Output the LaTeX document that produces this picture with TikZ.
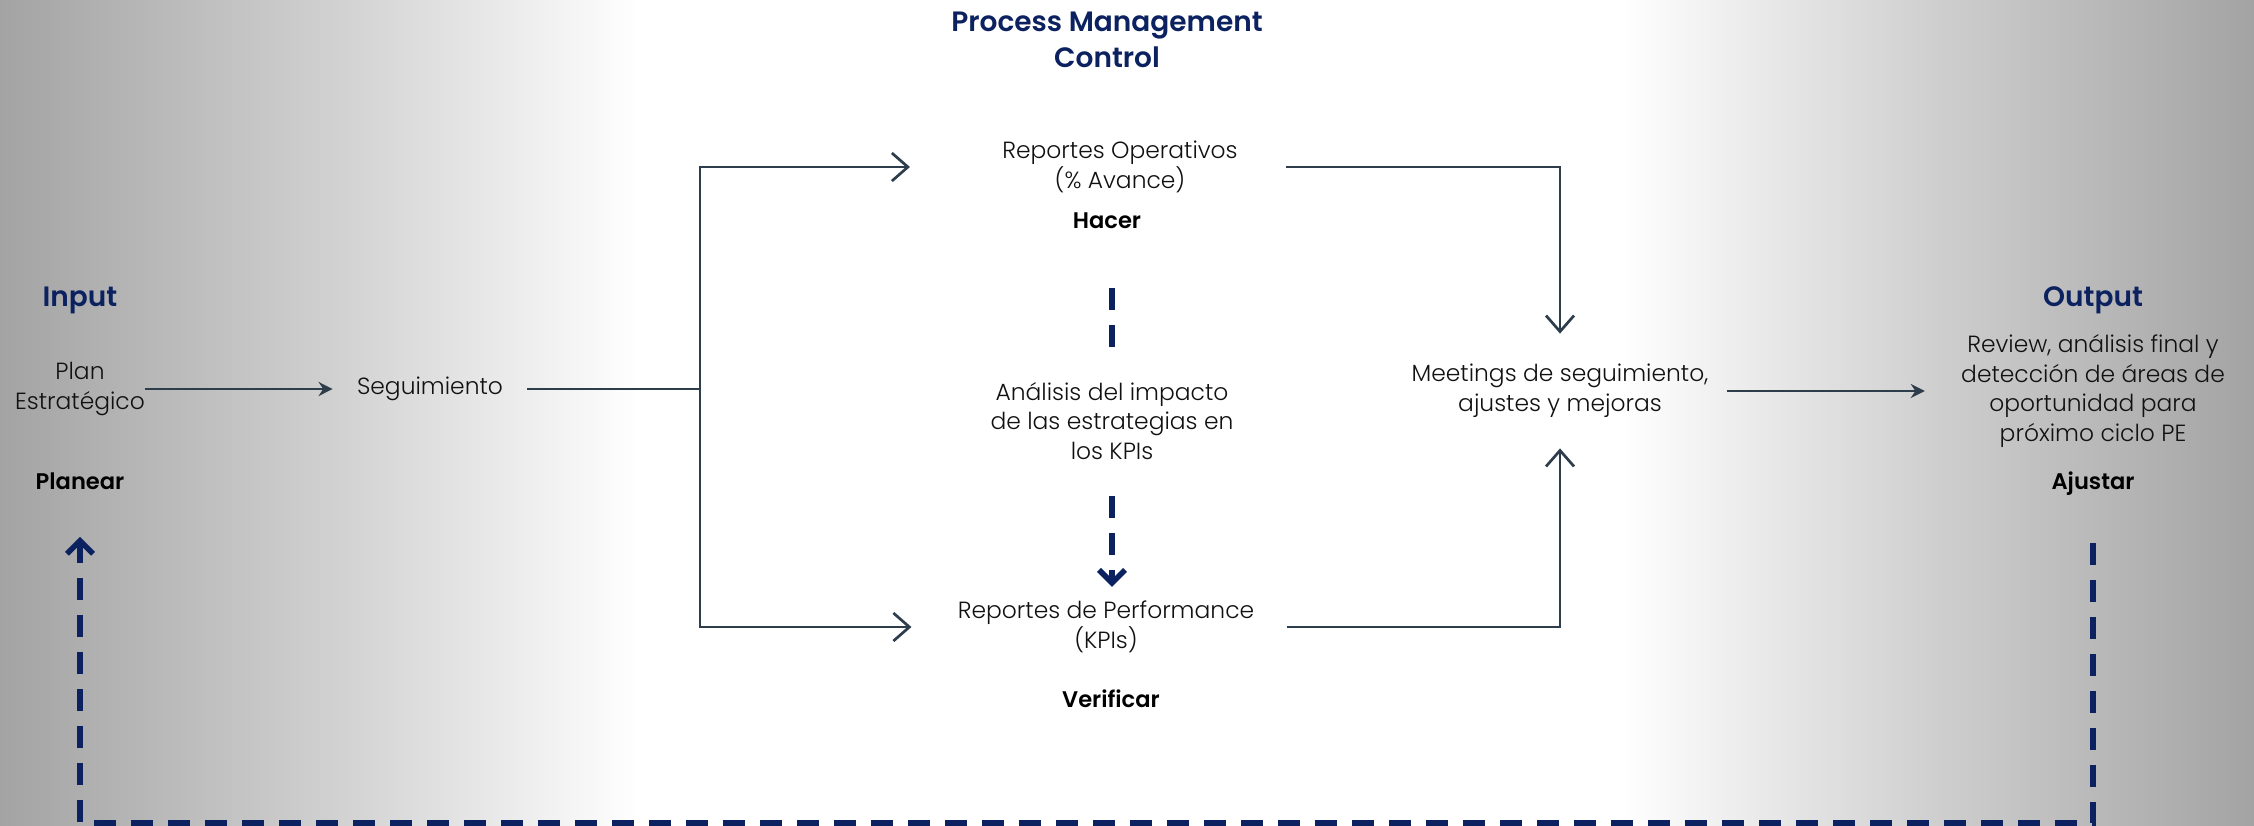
\documentclass[tikz,border=0pt]{standalone}
\usepackage{fontspec}
\setmainfont{Poppins}[UprightFont=* Light, BoldFont=* SemiBold]
\usetikzlibrary{arrows.meta,calc}
\definecolor{navy}{HTML}{0C2260}
\definecolor{slate}{HTML}{2E3D4C}
\definecolor{ink}{HTML}{111111}
\pgfdeclarehorizontalshading{sideglow}{100bp}{color(0bp)=(black!36); color(25bp)=(black!36); color(50bp)=(black!19); color(75bp)=(white); color(100bp)=(white)}
\tikzset{
	body/.style={align=center, inner sep=0pt, text=ink, font=\fontsize{11.7}{14.8}\selectfont},
	tag/.style={inner sep=0pt, text=black, font=\fontsize{11.3}{13}\selectfont\bfseries},
	head/.style={align=center, inner sep=0pt, text=navy, font=\fontsize{14}{18}\selectfont\bfseries},
	link/.style={draw=slate, line width=1.35pt},
	openhead/.style={link, -{Straight Barb[length=8pt,width=14pt]}},
	filledhead/.style={link, -{Stealth[length=7pt,width=7pt]}},
	loopback/.style={draw=navy, line width=2.75pt, dash pattern=on 10.75pt off 7.75pt},
	looptip/.style={loopback, -{Straight Barb[length=6.5pt,width=13pt]}}
}

\begin{document}
\begin{tikzpicture}[x=0.5pt, y=-0.5pt]
		%%%%% START %%%%%
		
		\useasboundingbox (0, 0) rectangle (2254, 825);
		\fill[white] (0, 0) rectangle (2254, 825);
		\shade[shading=sideglow] (0, 0) rectangle (640, 825);
		\shade[shading=sideglow, shading angle=180] (1620, 0) rectangle (2254, 825);
		
		\node[head] (title) at (1107, 40) {Process Management\\Control};
		
		\node[head] (input) at (80, 300) {Input};
		\node[body] (plan) at (80, 389) {Plan\\Estratégico};
		\node[tag] (planear) at (80, 481) {Planear};
		
		\node[body, inner xsep=12pt] (segui) at (430, 389) {Seguimiento};
		\coordinate (junc) at (700, 389);
		
		\node[body] (repop) at (1120, 167) {Reportes Operativos\\(\% Avance)};
		\node[tag] (hacer) at (1107, 221) {Hacer};
		\node[body] (analisis) at (1112, 421) {Análisis del impacto\\de las estrategias en\\los KPIs};
		\node[body] (repperf) at (1106, 627) {Reportes de Performance\\(KPIs)};
		\node[tag] (verificar) at (1111, 699) {Verificar};
		
		\node[body, minimum height=57pt] (meet) at (1560, 391) {Meetings de seguimiento,\\ajustes y mejoras};
		
		\node[head] (output) at (2093, 300) {Output};
		\node[body] (review) at (2093, 391) {Review, análisis final y\\detección de áreas de\\oportunidad para\\próximo ciclo PE};
		\node[tag] (ajustar) at (2093, 484) {Ajustar};
		\coordinate (base) at (0, 823);
		
		\draw[filledhead] (plan.east) -- (segui.west);
		\draw[link] (segui.east) -- (junc);
		\draw[openhead, shorten >=46pt] (junc) |- (repop.west);
		\draw[openhead, shorten >=23pt] (junc) |- (repperf.west);
		\draw[openhead, shorten <=24pt] (repop.east) -| (meet.north);
		\draw[openhead, shorten <=16pt] (repperf.east) -| (meet.south);
		\draw[filledhead, shorten <=9pt, shorten >=18pt] (meet.east) -- (review.west);
		
		\draw[loopback, shorten <=29.5pt, shorten >=17.5pt] (analisis.north |- hacer.south) -- (analisis.north);
		\draw[looptip, shorten <=18pt, shorten >=7pt] (analisis.south) -- (analisis.south |- repperf.north);
		
		\draw[looptip, shorten <=23.5pt, shorten >=23.5pt] (ajustar.south) -- (ajustar.south |- base) -| (planear.south);
		
		%%%%% END %%%%%
\end{tikzpicture}
\end{document}
